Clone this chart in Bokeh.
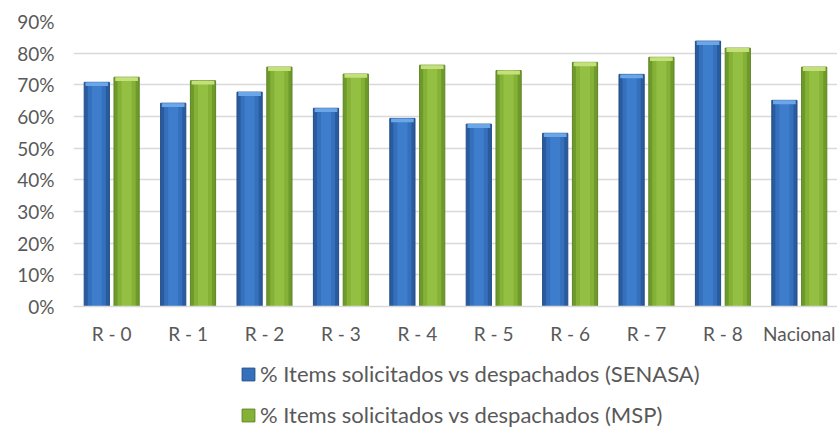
from bokeh.plotting import figure
from bokeh.layouts import column
from bokeh.models import FactorRange, NumeralTickFormatter, Legend, LegendItem, ColumnDataSource, FixedTicker
from bokeh.transform import dodge
from bokeh.embed import file_html
from bokeh.resources import INLINE

categories = ["R - 0", "R - 1", "R - 2", "R - 3", "R - 4", "R - 5", "R - 6", "R - 7", "R - 8", "Nacional"]
senasa = [0.708, 0.642, 0.677, 0.626, 0.594, 0.576, 0.547, 0.733, 0.838, 0.651]
msp = [0.724, 0.713, 0.756, 0.734, 0.762, 0.745, 0.771, 0.787, 0.816, 0.756]
y_ticks = [0.0, 0.1, 0.2, 0.3, 0.4, 0.5, 0.6, 0.7, 0.8, 0.9]
label_senasa = "% Items solicitados vs despachados (SENASA)"
label_msp = "% Items solicitados vs despachados (MSP)"

src = ColumnDataSource(data=dict(
    cat=categories, senasa=senasa, msp=msp,
    senasa_b=[v - 0.012 for v in senasa], msp_b=[v - 0.012 for v in msp],
))

FONT = "Lato"
TXT = "#595959"
OFF = 0.195
W = 0.33

BLUE = ["#2A5B9E", "#3570BC", "#3D7DCC", "#6BA6E8"]
GREEN = ["#6E9A2B", "#84B136", "#93C043", "#C3E07A"]


def draw_bars(fig, col, bcol, off, cols, edge):
    base = fig.vbar(x=dodge("cat", off, range=fig.x_range), top=col, width=W, source=src,
                    fill_color=cols[0], line_color=edge, line_width=1)
    fig.vbar(x=dodge("cat", off, range=fig.x_range), top=col, width=W * 0.72, source=src,
             fill_color=cols[1], line_color=None)
    fig.vbar(x=dodge("cat", off, range=fig.x_range), top=col, width=W * 0.4, source=src,
             fill_color=cols[2], line_color=None)
    fig.vbar(x=dodge("cat", off, range=fig.x_range), top=col, bottom=bcol, width=W * 0.9, source=src,
             fill_color=cols[3], line_color=None)
    return base


p = figure(x_range=FactorRange(*categories, range_padding=0), y_range=(0, 0.9),
           width=837, height=348, output_backend="svg", toolbar_location=None,
           min_border_top=21, min_border_left=73, min_border_right=0, min_border_bottom=42)

p.outline_line_color = None
p.background_fill_color = "white"
p.border_fill_color = "white"
p.xgrid.grid_line_color = None
p.ygrid.grid_line_color = "#D9D9D9"
p.ygrid.grid_line_width = 1.5

p.yaxis.ticker = FixedTicker(ticks=y_ticks)
p.yaxis.formatter = NumeralTickFormatter(format="0%")
p.yaxis.axis_line_color = None
p.yaxis.major_tick_line_color = None
p.yaxis.minor_tick_line_color = None
p.yaxis.major_label_standoff = 13
p.yaxis.major_label_text_font = FONT
p.yaxis.major_label_text_font_size = "19px"
p.yaxis.major_label_text_color = TXT

p.xaxis.axis_line_color = "#D9D9D9"
p.xaxis.axis_line_width = 1.5
p.xaxis.major_tick_line_color = None
p.xaxis.minor_tick_line_color = None
p.xaxis.major_label_standoff = 9
p.xaxis.major_label_text_font = FONT
p.xaxis.major_label_text_font_size = "19px"
p.xaxis.major_label_text_color = TXT

draw_bars(p, "senasa", "senasa_b", -OFF, BLUE, "#234D86")
draw_bars(p, "msp", "msp_b", OFF, GREEN, "#5E8524")

# Legend panel: same bars drawn in a figure whose y range lies above them (off view),
# so only the legend swatches are visible.
lg = figure(x_range=FactorRange(*categories, range_padding=0), y_range=(10, 11),
            width=837, height=80, output_backend="svg", toolbar_location=None,
            min_border=0, x_axis_location=None, y_axis_location=None)
lg.outline_line_color = None
lg.grid.grid_line_color = None
lg.border_fill_color = "white"
lb = lg.vbar(x=dodge("cat", -OFF, range=lg.x_range), top="senasa", width=W, source=src,
             fill_color="#3570BC", line_color="#234D86")
lgn = lg.vbar(x=dodge("cat", OFF, range=lg.x_range), top="msp", width=W, source=src,
              fill_color="#84B136", line_color="#5E8524")

legend = Legend(items=[LegendItem(label=label_senasa, renderers=[lb]),
                       LegendItem(label=label_msp, renderers=[lgn])],
                orientation="vertical", location=(167, 0))
legend.label_text_font = FONT
legend.label_text_font_size = "22px"
legend.label_text_color = TXT
legend.glyph_width = 16
legend.glyph_height = 16
legend.label_height = 18
legend.label_standoff = 4
legend.spacing = 14
legend.padding = 0
legend.margin = 0
legend.border_line_color = None
legend.background_fill_alpha = 0
lg.add_layout(legend, "center")

layout = column(p, lg, spacing=0)
open("out.html", "w").write(file_html(layout, INLINE))
